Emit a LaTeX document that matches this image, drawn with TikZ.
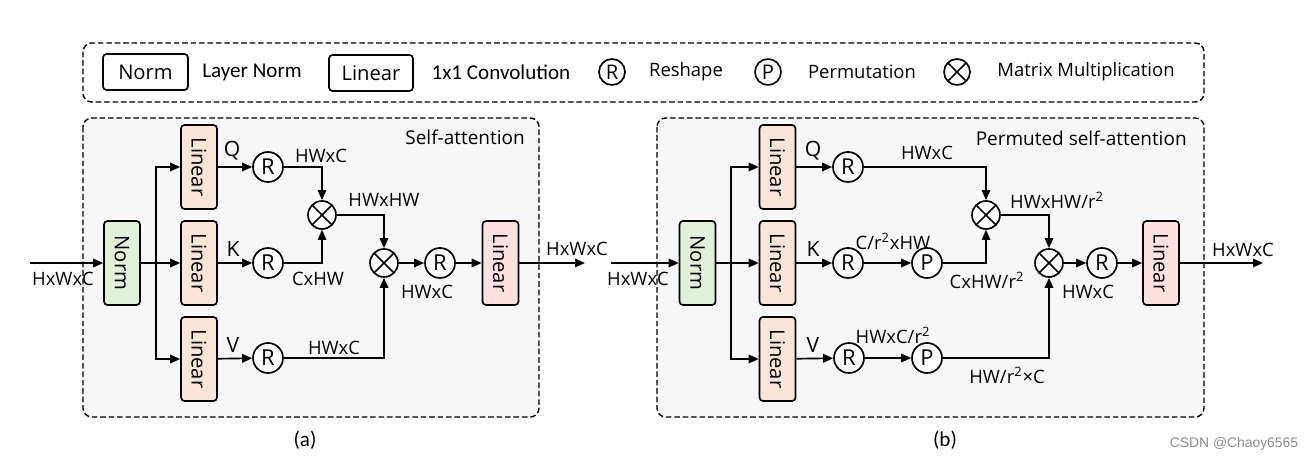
\documentclass[tikz,border=0pt]{standalone}
\usepackage{fontspec}
\setmainfont{Open Sans}
\newfontfamily\carl{Carlito}
\newfontfamily\arialf{Liberation Sans}
\usetikzlibrary{arrows.meta}
\definecolor{normg}{HTML}{E2EFDA}
\definecolor{linp}{HTML}{FBE5D6}
\definecolor{linr}{HTML}{FFE1E1}
\definecolor{panelc}{HTML}{F7F7F7}
\begin{document}
\begin{tikzpicture}[x=0.02cm,y=-0.02cm,
  lw/.style={line width=0.95pt},
  arr/.style={lw,-{Triangle[length=2mm,width=1.7mm]}},
  vbox/.style={draw,lw,rounded corners=2pt,rotate=-90,minimum width=1.68cm,minimum height=0.72cm,inner sep=0pt,font=\fontsize{11.5}{13}\selectfont},
  normbox/.style={vbox,fill=normg},
  linbox/.style={vbox,fill=linp},
  outbox/.style={vbox,fill=linr},
  opc/.style={draw,lw,circle,minimum size=0.6cm,inner sep=0pt,fill=white,font=\fontsize{12.5}{13}\selectfont},
  mulc/.style={draw,lw,circle,minimum size=0.56cm,inner sep=0pt,fill=white,
    path picture={\draw[line width=0.95pt] (path picture bounding box.center) ++(-0.21cm,-0.21cm) -- ++(0.42cm,0.42cm)
      (path picture bounding box.center) ++(-0.21cm,0.21cm) -- ++(0.42cm,-0.42cm);}},
  lab/.style={font=\fontsize{10.5}{12}\selectfont,inner sep=0pt},
  qkv/.style={font=\fontsize{12}{13}\selectfont,inner sep=0pt},
  ttl/.style={font=\fontsize{10.8}{12}\selectfont,inner sep=0pt,anchor=east},
  panelst/.style={draw,line width=0.8pt,dash pattern=on 3.2pt off 1.6pt,rounded corners=5pt},
  legbox/.style={draw,lw,rounded corners=2pt,minimum height=0.72cm,inner sep=0pt,font=\fontsize{11.5}{13}\selectfont},
  legdesc/.style={font=\carl\fontsize{12}{14}\selectfont,inner sep=0pt},
  sub/.style={font=\carl\fontsize{12}{14}\selectfont,inner sep=0pt},
]
\useasboundingbox (0,0) rectangle (1315,462);

% legend
\draw[panelst] (83,43) rectangle (1204,102);
\node[legbox,minimum width=1.7cm] (lgn) at (145.5,72) {Norm};
\node[legdesc] (lgnd) at (252,72) {Layer Norm};
\node[legbox,minimum width=1.68cm] (lgl) at (371,73) {Linear};
\node[legdesc] (lgld) at (501,72) {1x1 Convolution};
\node[opc,minimum size=0.52cm,font=\fontsize{11.5}{13}\selectfont] (lgr) at (612,72) {R};
\node[lab] (lgrd) at (686,72) {Reshape};
\node[opc,minimum size=0.52cm,font=\fontsize{11.5}{13}\selectfont] (lgp) at (768,72) {P};
\node[lab] (lgpd) at (862,72) {Permutation};
\node[mulc,minimum size=0.52cm] (lgm) at (957,72) {};
\node[lab] (lgmd) at (1086,72) {Matrix Multiplication};

% panel (a)
\draw[panelst,fill=panelc] (83,118) rectangle (539,417);
\node[ttl] (t1) at (525,137) {Self-attention};
\node[normbox] (n1) at (122,263) {Norm};
\node[linbox] (lq1) at (199,167) {Linear};
\node[linbox] (lk1) at (199,263) {Linear};
\node[linbox] (lv1) at (199,359) {Linear};
\node[opc] (rq1) at (268,167) {R};
\node[opc] (rk1) at (268,263) {R};
\node[opc] (rv1) at (268,358) {R};
\node[mulc] (m11) at (322,215) {};
\node[mulc] (m21) at (384,263) {};
\node[opc] (ro1) at (440,263) {R};
\node[outbox] (lo1) at (500.5,263) {Linear};
\coordinate (in1) at (30,263);
\coordinate (br1) at (156,263);
\coordinate (out1) at (585,263);

\draw[arr] (in1) -- (n1);
\draw[lw] (n1) -- (br1);
\draw[arr] (br1) -- (lk1);
\draw[arr] (br1) |- (lq1);
\draw[arr] (br1) |- (lv1);
\draw[arr] (lq1) -- (rq1);
\draw[arr] (lk1) -- (rk1);
\draw[arr] (lv1) -- (rv1);
\draw[arr] (rq1) -| (m11);
\draw[arr] (rk1) -| (m11);
\draw[arr] (m11) -| (m21);
\draw[arr] (rv1) -| (m21);
\draw[arr] (m21) -- (ro1);
\draw[arr] (ro1) -- (lo1);
\draw[arr] (lo1) -- (out1);

\node[lab] (a1) at (63,279) {HxWxC};
\node[qkv] (a2) at (232,151) {Q};
\node[qkv] (a3) at (233,249) {K};
\node[qkv] (a4) at (233,345) {V};
\node[lab] (a5) at (321,156) {HWxC};
\node[lab] (a6) at (318,279) {CxHW};
\node[lab] (a7) at (384,200) {HWxHW};
\node[lab] (a8) at (334,348) {HWxC};
\node[lab] (a9) at (427,292) {HWxC};
\node[lab] (a10) at (577,249) {HxWxC};

% panel (b)
\draw[panelst,fill=panelc] (657,118) rectangle (1204,417);
\node[ttl] (t2) at (1187,138) {Permuted self-attention};
\node[normbox] (n2) at (697.5,263) {Norm};
\node[linbox] (lq2) at (777.5,167) {Linear};
\node[linbox] (lk2) at (777.5,263) {Linear};
\node[linbox] (lv2) at (777.5,359) {Linear};
\node[opc] (rq2) at (848,167) {R};
\node[opc] (rk2) at (848,263) {R};
\node[opc] (rv2) at (849,358) {R};
\node[opc] (pk2) at (927,263) {P};
\node[opc] (pv2) at (927,358) {P};
\node[mulc] (m12) at (986,215) {};
\node[mulc] (m22) at (1049,263) {};
\node[opc] (ro2) at (1102,263) {R};
\node[outbox] (lo2) at (1161,263) {Linear};
\coordinate (in2) at (611,263);
\coordinate (br2) at (731,263);
\coordinate (out2) at (1263,263);

\draw[arr] (in2) -- (n2);
\draw[lw] (n2) -- (br2);
\draw[arr] (br2) -- (lk2);
\draw[arr] (br2) |- (lq2);
\draw[arr] (br2) |- (lv2);
\draw[arr] (lq2) -- (rq2);
\draw[arr] (lk2) -- (rk2);
\draw[arr] (lv2) -- (rv2);
\draw[arr] (rk2) -- (pk2);
\draw[arr] (rv2) -- (pv2);
\draw[arr] (rq2) -| (m12);
\draw[arr] (pk2) -| (m12);
\draw[arr] (m12) -| (m22);
\draw[arr] (pv2) -| (m22);
\draw[arr] (m22) -- (ro2);
\draw[arr] (ro2) -- (lo2);
\draw[arr] (lo2) -- (out2);

\node[lab] (b1) at (638,279) {HxWxC};
\node[qkv] (b2) at (813,151) {Q};
\node[qkv] (b3) at (813,249) {K};
\node[qkv] (b4) at (813,345) {V};
\node[lab] (b5) at (927,153) {HWxC};
\node[lab] (b6) at (893,241) {C/r\textsuperscript{2}xHW};
\node[lab] (b7) at (893,335) {HWxC/r\textsuperscript{2}};
\node[lab] (b8) at (1057,200) {HWxHW/r\textsuperscript{2}};
\node[lab] (b9) at (987,280) {CxHW/r\textsuperscript{2}};
\node[lab] (b10) at (1007,375) {HW/r\textsuperscript{2}×C};
\node[lab] (b11) at (1088,292) {HWxC};
\node[lab] (b12) at (1243,250) {HxWxC};

% sub captions
\node[sub] (ca) at (305,440) {(a)};
\node[sub] (cb) at (945,440) {(b)};
\node[font=\arialf\fontsize{7.9}{9}\selectfont,text=black!45,inner sep=0pt] (wm) at (1234,444) {CSDN @Chaoy6565};
\end{tikzpicture}
\end{document}
